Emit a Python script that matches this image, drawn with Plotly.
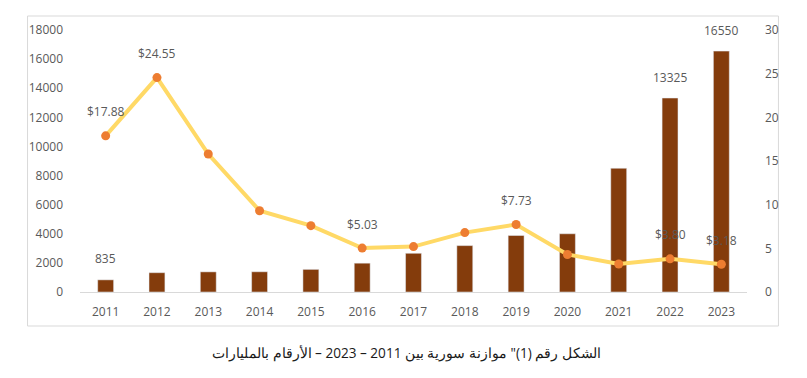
import plotly.graph_objects as go

years = ["2011", "2012", "2013", "2014", "2015", "2016", "2017", "2018", "2019", "2020", "2021", "2022", "2023"]
budget = [835, 1326, 1383, 1390, 1554, 1980, 2660, 3187, 3882, 4000, 8500, 13325, 16550]
usd = [17.88, 24.55, 15.8, 9.3, 7.6, 5.03, 5.2, 6.8, 7.73, 4.3, 3.2, 3.80, 3.18]
budget_labels = ["835", "", "", "", "", "", "", "", "", "", "", "13325", "16550"]
usd_labels = ["$17.88", "$24.55", "", "", "", "$5.03", "", "", "$7.73", "", "", "$3.80", "$3.18"]
caption = 'الشكل رقم (1)" موازنة سورية بين 2011 – 2023 – الأرقام بالمليارات'

FONT = "Open Sans, Noto Sans, sans-serif"
GRAY = "#595959"

idx = list(range(len(years)))

# figure geometry (page body has an 8px margin)
W, H = 799, 370
PL, PR, PT, PB = 72.4, 738.6, 22, 284
PW, PH = PR - PL, PB - PT

def px(x):
    return (x - PL) / PW

def py(y):
    return (PB - y) / PH

fig = go.Figure()
fig.add_trace(go.Bar(x=idx, y=budget, marker=dict(color="#843C0C"),
                     showlegend=False))
fig.add_trace(go.Scatter(x=idx, y=usd, yaxis="y2", mode="lines+markers",
                         line=dict(color="#FFD966", width=4),
                         marker=dict(color="#ED7D31", size=9),
                         showlegend=False))

annotations = []
for x, v, t in zip(idx, budget, budget_labels):
    if t:
        annotations.append(dict(x=x, y=v, xref="x", yref="y", text=t, showarrow=False,
                                yshift=21, font=dict(family=FONT, size=12, color=GRAY)))
for x, v, t in zip(idx, usd, usd_labels):
    if t:
        annotations.append(dict(x=x, y=v, xref="x", yref="y2", text=t, showarrow=False,
                                yshift=24, font=dict(family=FONT, size=12, color=GRAY)))

annotations.append(dict(x=px(399), y=py(345), xref="paper", yref="paper",
                        xanchor="center", yanchor="middle",
                        text=caption, showarrow=False,
                        font=dict(family=FONT, size=13.6, color="#1a1a1a")))

fig.update_layout(
    width=W, height=H,
    margin=dict(l=PL, r=W - PR, t=PT, b=H - PB),
    paper_bgcolor="white", plot_bgcolor="white",
    font=dict(family=FONT, size=12, color=GRAY),
    bargap=0.69,
    xaxis=dict(range=[-0.5, 12.5], tickmode="array", tickvals=idx, ticktext=years,
               showgrid=False, showline=True, linecolor="#D9D9D9", linewidth=1,
               zeroline=False, ticks="", ticklabelstandoff=9,
               tickfont=dict(size=12, color=GRAY)),
    yaxis=dict(range=[0, 18000], dtick=2000, tickformat="d", showgrid=False, zeroline=False,
               ticks="", ticklabelstandoff=16, tickfont=dict(size=12, color=GRAY)),
    yaxis2=dict(range=[0, 30], dtick=5, overlaying="y", side="right", showgrid=False,
                zeroline=False, ticks="", ticklabelstandoff=17,
                tickfont=dict(size=12, color=GRAY)),
    annotations=annotations,
    shapes=[dict(type="rect", xref="paper", yref="paper",
                 x0=px(20), x1=px(770), y0=py(318), y1=py(8),
                 line=dict(color="#D9D9D9", width=1), fillcolor="rgba(0,0,0,0)",
                 layer="below")],
)

fig.write_html("out.html")
